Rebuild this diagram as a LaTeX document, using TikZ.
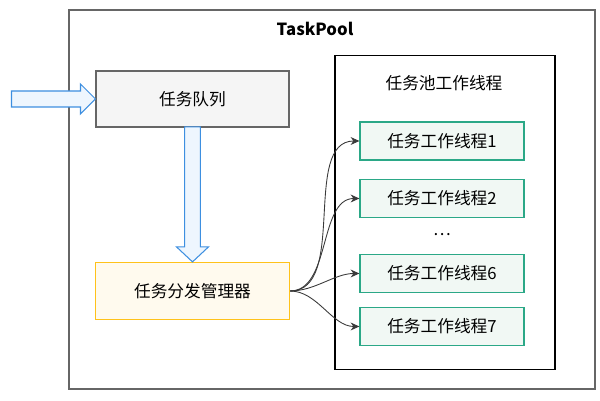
\documentclass[tikz,border=0pt]{standalone}
\usepackage{fontspec}
\setmainfont{Noto Sans CJK SC}
\usetikzlibrary{arrows.meta}
\definecolor{framegray}{HTML}{666666}
\definecolor{queuefill}{HTML}{F5F5F5}
\definecolor{arrowblue}{HTML}{3D8FE0}
\definecolor{arrowfill}{HTML}{EEF6FE}
\definecolor{dispfill}{HTML}{FFFAEE}
\definecolor{displine}{HTML}{FFC21A}
\definecolor{workfill}{HTML}{F1F8F4}
\definecolor{workline}{HTML}{2BA887}
\definecolor{linkgray}{HTML}{3A3A3A}
\tikzset{
  txt/.style={font=\fontsize{9.5}{11}\selectfont},
  worker/.style={shape=rectangle, draw=workline, fill=workfill, line width=0.7pt,
    minimum width=3.28cm, minimum height=0.76cm, txt},
  bigarrow/.style={draw=arrowblue, fill=arrowfill, line width=0.6pt, line join=miter},
  link/.style={-{Stealth[length=5pt,width=4.5pt]}, draw=linkgray, line width=0.5pt}
}
\begin{document}
\begin{tikzpicture}[x=0.02cm, y=-0.02cm]
    \useasboundingbox (0,0) rectangle (600,401);
    % frames
    \node[shape=rectangle, draw=framegray, line width=0.9pt, minimum width=10.52cm, minimum height=7.58cm] at (332,199.5) (pool) {};
    \node[font=\fontsize{9.5}{11}\selectfont\bfseries] at (315,29) (poolname) {TaskPool};
    \node[shape=rectangle, draw=black, line width=0.6pt, minimum width=4.4cm, minimum height=6.28cm] at (445,212.5) (threads) {};
    \node[txt] at (444,83) (threadsname) {任务池工作线程};
    % left column
    \node[shape=rectangle, draw=framegray, fill=queuefill, line width=0.6pt, minimum width=3.86cm, minimum height=1.12cm, txt] at (192.5,99) (queue) {任务队列};
    \node[shape=rectangle, draw=displine, fill=dispfill, line width=0.7pt, minimum width=3.88cm, minimum height=1.14cm, txt] at (192.5,291) (disp) {任务分发管理器};
    \draw[bigarrow] (queue.west) -- ++(-15,-15) -- ++(0,7) -- ++(-69,0) -- ++(0,16) -- ++(69,0) -- ++(0,7) -- cycle;
    \draw[bigarrow] (disp.north) -- ++(-16,-15) -- ++(8.2,0) -- ++(0,-120) -- ++(15.6,0) -- ++(0,120) -- ++(8.2,0) -- cycle;
    % workers
    \node[worker] at (442,141) (w1) {任务工作线程1};
    \node[worker] at (442,198.5) (w2) {任务工作线程2};
    \node[txt] at (442,235) (dots) {\dots};
    \node[worker] at (442,273.5) (w6) {任务工作线程6};
    \node[worker] at (442,326.5) (w7) {任务工作线程7};
    \draw[link] (disp.east) to[out=0, in=180, looseness=0.9] (w1.west);
    \draw[link] (disp.east) to[out=0, in=180, looseness=0.9] (w2.west);
    \draw[link] (disp.east) to[out=0, in=180, looseness=0.9] (w6.west);
    \draw[link] (disp.east) to[out=0, in=180, looseness=0.9] (w7.west);
\end{tikzpicture}
\end{document}
